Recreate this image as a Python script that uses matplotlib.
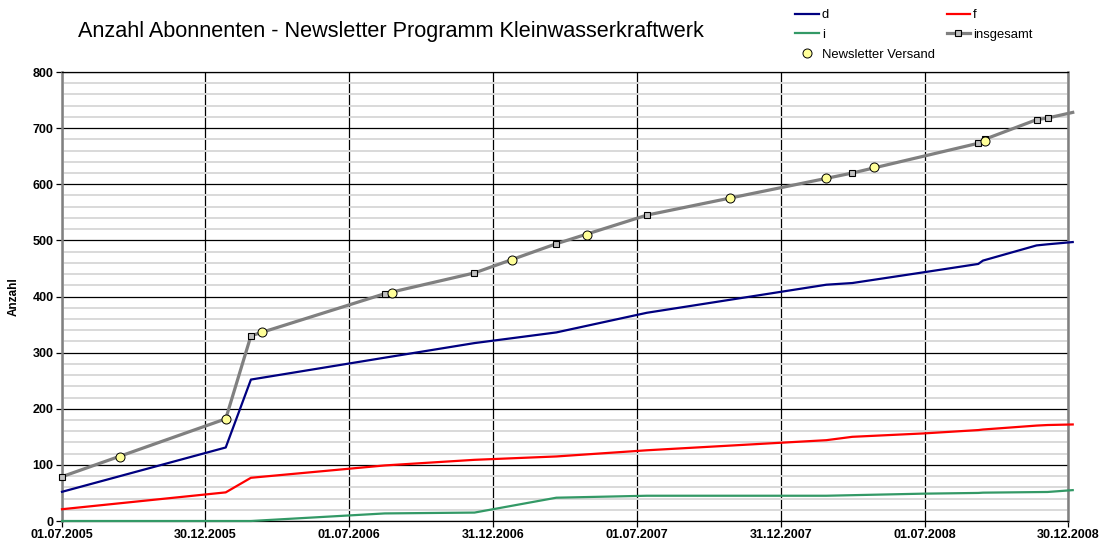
import datetime as dt
import matplotlib
matplotlib.use("Agg")
import matplotlib.pyplot as plt
import matplotlib.dates as mdates
from matplotlib.ticker import MultipleLocator, FixedLocator, NullFormatter

plt.rcParams['font.family'] = ['Liberation Sans', 'DejaVu Sans']

title = "Anzahl Abonnenten - Newsletter Programm Kleinwasserkraftwerk"
x_tick_labels = ["01.07.2005", "30.12.2005", "01.07.2006", "31.12.2006",
                 "01.07.2007", "31.12.2007", "01.07.2008", "30.12.2008"]

# dates shared by the d, f, i series
lang_dates = ["2005-07-01", "2006-01-25", "2006-02-26", "2006-08-15", "2006-12-07",
              "2007-03-21", "2007-07-14", "2008-02-27", "2008-03-31", "2008-06-29",
              "2008-09-07", "2008-09-13", "2008-11-20", "2008-12-04", "2009-01-05"]
d_vals = [52, 131, 252, 291, 317, 336, 371, 421, 424, 443, 458, 464, 491, 493, 497]
f_vals = [21, 51, 77, 99, 109, 115, 126, 144, 150, 156, 162, 163, 170, 171, 172]
i_vals = [0, 0, 0, 13.5, 15, 41.5, 45, 45, 46, 48.7, 50, 50.5, 51.5, 51.7, 55]

total_dates = ["2005-07-01", "2006-01-25", "2006-02-26", "2006-08-15", "2006-12-07",
               "2007-03-21", "2007-07-14", "2008-03-31", "2008-09-07", "2008-09-15",
               "2008-11-20", "2008-12-04", "2009-01-05"]
total_vals = [79, 182, 330, 405, 442, 494, 545, 620, 673, 680, 715, 718, 728]

news_dates = ["2005-09-13", "2006-01-25", "2006-03-12", "2006-08-24", "2007-01-24",
              "2007-04-29", "2007-10-27", "2008-02-27", "2008-04-27", "2008-09-15"]
news_vals = [114, 182, 337, 407, 465, 510, 575, 611, 630, 677]


def to_num(s, fmt="%Y-%m-%d"):
    return mdates.date2num(dt.datetime.strptime(s, fmt))


xl = [to_num(s) for s in lang_dates]
xt = [to_num(s) for s in total_dates]
xn = [to_num(s) for s in news_dates]
tick_pos = [to_num(s, "%d.%m.%Y") for s in x_tick_labels]

fig = plt.figure(figsize=(11.02, 5.48), dpi=100)
W, H = 1102, 548
ax = fig.add_axes([62 / W, (H - 521) / H, (1068 - 62) / W, (521 - 72) / H])

ax.set_xlim(tick_pos[0], tick_pos[-1])
ax.set_ylim(0, 800)

ax.yaxis.set_major_locator(MultipleLocator(100))
ax.yaxis.set_minor_locator(MultipleLocator(20))
ax.xaxis.set_major_locator(FixedLocator(tick_pos))
ax.set_xticklabels(x_tick_labels)
ax.yaxis.set_minor_formatter(NullFormatter())

ax.grid(which='minor', axis='y', color='#d9d9d9', lw=1.4, zorder=0)
ax.grid(which='major', axis='y', color='black', lw=0.9, zorder=1)
ax.grid(which='major', axis='x', color='black', lw=0.9, zorder=1)
ax.set_axisbelow(True)

ln_d, = ax.plot(xl, d_vals, color='#000080', lw=1.6, clip_on=False, zorder=3, label='d')
ln_f, = ax.plot(xl, f_vals, color='#ff0000', lw=1.6, clip_on=False, zorder=3, label='f')
ln_i, = ax.plot(xl, i_vals, color='#339966', lw=1.6, clip_on=False, zorder=3, label='i')
ln_t, = ax.plot(xt, total_vals, color='#808080', lw=2.3, clip_on=False, zorder=4,
                marker='s', markersize=4.5, markerfacecolor='#c0c0c0',
                markeredgecolor='black', markeredgewidth=0.8,
                markevery=list(range(len(xt) - 1)), label='insgesamt')
ln_n, = ax.plot(xn, news_vals, ls='none', marker='o', markersize=6.5,
                markerfacecolor='#ffff99', markeredgecolor='black',
                markeredgewidth=0.7, zorder=5, clip_on=False, label='Newsletter Versand')

for sp in ['left', 'right']:
    ax.spines[sp].set_color('#808080')
    ax.spines[sp].set_linewidth(1.8)
for sp in ['top', 'bottom']:
    ax.spines[sp].set_color('black')
    ax.spines[sp].set_linewidth(0.9)

ax.tick_params(axis='both', which='major', length=4, width=0.9, direction='out',
               labelsize=9, pad=2)
ax.tick_params(axis='y', which='minor', length=0)
for lab in ax.get_xticklabels() + ax.get_yticklabels():
    lab.set_fontweight('bold')

ax.set_ylabel("Anzahl", fontsize=8.5, fontweight='bold', labelpad=9)

fig.text(78 / W, 1 - 32 / H, title, fontsize=15.6, ha='left', va='center')

leg = fig.legend(handles=[ln_d, ln_i, ln_n, ln_f, ln_t], ncol=2, loc='upper left',
                 bbox_to_anchor=(795 / W, 1 - 9 / H), frameon=False, fontsize=9.4,
                 handlelength=1.8, handletextpad=0.25, columnspacing=0.9,
                 labelspacing=0.58, borderaxespad=0, borderpad=0)

fig.savefig("out.png", dpi=100)
